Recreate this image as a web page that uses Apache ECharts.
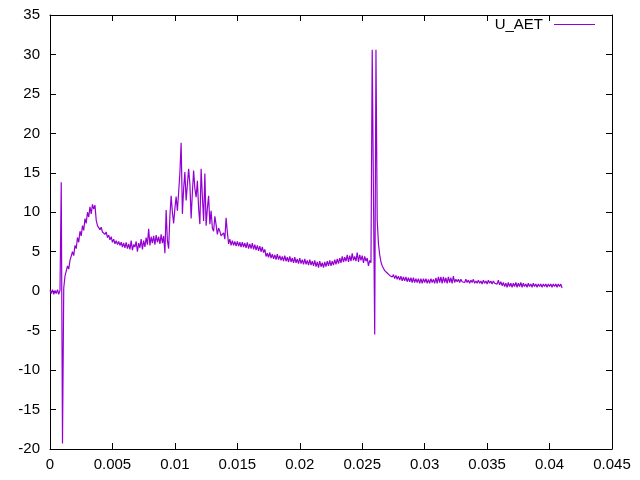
<!DOCTYPE html>
<html>
<head>
<meta charset="utf-8">
<script src="https://cdn.jsdelivr.net/npm/echarts@6/dist/echarts.min.js"></script>
<style>html,body{margin:0;padding:0;background:#fff}#c{width:640px;height:480px}</style>
</head>
<body>
<div id="c"></div>
<script>
// Sampling: one value every 0.0001 s starting at t = 0
const seriesName = 'U_AET';
const sampleStart = 0;
const sampleStep = 0.0001;
const uAET = [
  0.1, -0.3, 0.2, -0.4, 0.1, -0.3, 0.2, -0.4, 0.1, 13.8,
  -19.3, 0.4, 1.9, 1.8, 3.2, 2.8, 3.9, 3.7, 5.0, 4.5,
  5.8, 5.4, 6.8, 6.2, 7.6, 7.0, 8.3, 7.7, 9.2, 8.6,
  10.0, 9.4, 10.7, 9.8, 11.0, 10.4, 10.9, 9.0, 8.3, 8.4,
  7.8, 8.1, 7.5, 7.7, 7.2, 7.5, 6.8, 7.1, 6.5, 6.9,
  6.2, 6.6, 6.0, 6.4, 5.9, 6.3, 5.8, 6.2, 5.6, 6.1,
  5.5, 6.2, 5.4, 6.0, 5.3, 6.4, 5.2, 5.9, 5.6, 6.3,
  5.0, 6.1, 5.5, 6.6, 5.3, 6.4, 5.6, 6.8, 5.9, 7.9,
  5.8, 6.9, 6.1, 7.0, 5.9, 7.1, 6.2, 6.9, 6.0, 7.2,
  6.1, 7.0, 4.8, 10.3, 6.4, 5.4, 9.5, 12.1, 10.0, 8.6,
  10.5, 12.0, 10.2, 12.5, 15.0, 18.8, 9.8, 13.0, 15.1, 11.5,
  13.5, 15.5, 13.6, 9.2, 12.5, 15.3, 13.0, 11.9, 14.0, 10.5,
  8.5, 15.5, 12.0, 8.9, 14.9, 8.3, 10.5, 12.1, 8.5, 10.2,
  8.0, 7.6, 9.5, 8.4, 7.2, 8.0, 7.6, 7.0, 6.8, 7.4,
  6.6, 9.3, 7.5, 6.0, 6.6, 5.8, 6.4, 5.8, 6.3, 5.7,
  6.3, 5.7, 6.2, 5.6, 6.2, 5.6, 6.1, 5.5, 6.2, 5.4,
  6.0, 5.4, 6.1, 5.3, 5.9, 5.2, 5.8, 5.1, 5.7, 5.0,
  5.6, 4.9, 5.3, 4.4, 4.8, 4.3, 4.9, 4.2, 4.7, 4.1,
  4.6, 4.0, 4.7, 4.0, 4.5, 3.9, 4.4, 3.8, 4.5, 3.8,
  4.3, 3.7, 4.4, 3.7, 4.2, 3.6, 4.3, 3.6, 4.1, 3.5,
  4.2, 3.5, 4.0, 3.4, 4.1, 3.4, 3.9, 3.3, 4.0, 3.3,
  3.8, 3.2, 3.9, 3.1, 3.7, 3.0, 3.8, 3.1, 3.6, 3.0,
  3.7, 3.1, 3.8, 3.2, 3.9, 3.2, 3.8, 3.3, 4.0, 3.4,
  4.1, 3.5, 4.2, 3.6, 4.4, 3.7, 4.3, 3.8, 4.6, 3.7,
  4.5, 3.8, 4.8, 3.9, 4.4, 3.8, 4.9, 3.7, 4.6, 3.9,
  4.5, 3.6, 4.4, 3.8, 4.2, 3.2, 3.9, 3.6, 30.6, 30.6,
  -5.5, 30.6, 9.0, 6.0, 4.6, 3.7, 3.2, 2.9, 2.6, 2.5,
  2.3, 2.4, 2.0, 2.2, 1.8, 2.1, 1.6, 2.0, 1.5, 1.9,
  1.4, 1.9, 1.3, 1.8, 1.3, 1.8, 1.2, 1.7, 1.2, 1.7,
  1.1, 1.7, 1.1, 1.6, 1.1, 1.6, 1.0, 1.6, 1.0, 1.6,
  1.1, 1.6, 1.0, 1.5, 1.0, 1.6, 1.1, 1.5, 1.0, 1.7,
  1.0, 1.8, 1.1, 1.8, 1.0, 1.8, 1.1, 1.7, 1.0, 1.8,
  1.1, 1.7, 1.0, 1.9, 1.1, 1.5, 1.2, 1.5, 1.1, 1.5,
  1.2, 1.4, 1.1, 1.5, 1.1, 1.4, 1.0, 1.4, 1.1, 1.5,
  1.0, 1.3, 1.0, 1.4, 1.0, 1.3, 0.9, 1.4, 1.0, 1.3,
  0.9, 1.4, 1.0, 1.3, 0.9, 1.3, 1.0, 1.2, 0.9, 1.4,
  0.8, 1.2, 0.7, 1.1, 0.6, 1.0, 0.5, 1.1, 0.6, 1.0,
  0.5, 1.0, 0.6, 1.1, 0.5, 1.0, 0.6, 1.1, 0.5, 1.0,
  0.6, 0.9, 0.5, 1.0, 0.6, 0.9, 0.5, 1.0, 0.6, 0.9,
  0.5, 0.9, 0.6, 0.9, 0.5, 0.9, 0.6, 0.9, 0.5, 0.9,
  0.6, 0.9, 0.5, 0.9, 0.6, 0.9, 0.5, 0.9, 0.6, 0.9,
  0.4
];
const xTickMin = 0, xTickMax = 0.045, xTickStep = 0.005;
const yTickMin = -20, yTickMax = 35, yTickStep = 5;

const points = uAET.map((u, i) => [+(sampleStart + i * sampleStep).toFixed(4), u]);

const FONT = 'Liberation Sans, Arial, sans-serif';
const lineColor = '#9400d3';
const axisCommon = {
  axisLine: { show: true, onZero: false, lineStyle: { color: '#000', width: 1 } },
  axisTick: { show: true, inside: true, length: 6, lineStyle: { color: '#000', width: 1 } },
  splitLine: { show: false }
};

const chart = echarts.init(document.getElementById('c'), null, { renderer: 'canvas' });
chart.setOption({
  animation: false,
  backgroundColor: '#fff',
  textStyle: { fontFamily: FONT },
  grid: { left: 50, right: 28, top: 15, bottom: 31, containLabel: false },
  legend: {
    data: [seriesName],
    right: 45, top: 17,
    align: 'right',
    icon: 'rect',
    itemWidth: 41, itemHeight: 1,
    padding: 0,
    textStyle: { fontSize: 15, color: '#000', fontFamily: FONT, padding: [0, 6, 0, 0] }
  },
  xAxis: [
    Object.assign({
      type: 'value', position: 'bottom', min: xTickMin, max: xTickMax, interval: xTickStep,
      axisLabel: { show: true, color: '#000', fontSize: 15, fontFamily: FONT, margin: 8,
        formatter: v => String(+v.toFixed(3)) }
    }, axisCommon),
    Object.assign({
      type: 'value', position: 'top', min: xTickMin, max: xTickMax, interval: xTickStep,
      axisLabel: { show: false }
    }, axisCommon)
  ],
  yAxis: [
    Object.assign({
      type: 'value', position: 'left', min: yTickMin, max: yTickMax, interval: yTickStep,
      axisLabel: { show: true, color: '#000', fontSize: 15, fontFamily: FONT, margin: 10 }
    }, axisCommon),
    Object.assign({
      type: 'value', position: 'right', min: yTickMin, max: yTickMax, interval: yTickStep,
      axisLabel: { show: false }
    }, axisCommon)
  ],
  series: [{
    name: seriesName,
    type: 'line',
    xAxisIndex: 0, yAxisIndex: 0,
    data: points,
    showSymbol: false,
    symbol: 'none',
    sampling: null,
    lineStyle: { color: lineColor, width: 1.2 },
    itemStyle: { color: lineColor }
  }]
});
</script>
</body>
</html>
